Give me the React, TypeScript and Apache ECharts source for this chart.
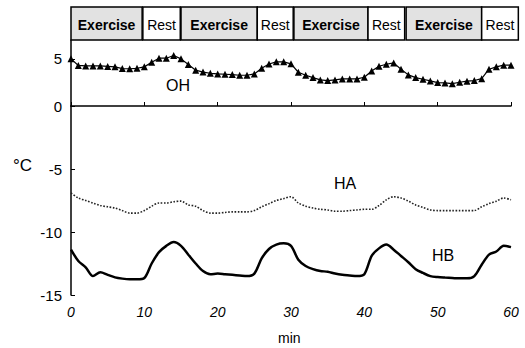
import React, { useEffect, useRef } from "react";
import * as echarts from "echarts";

const minutes: number[] = Array.from({ length: 61 }, (_, i) => i);

const ohValues = [
  5.0, 4.3, 4.25, 4.25, 4.25, 4.2, 4.15, 3.97, 3.95, 4.0, 4.15,
  4.65, 5.07, 5.07, 5.35, 5.0, 4.4, 3.8, 3.6, 3.47, 3.4,
  3.37, 3.33, 3.26, 3.26, 3.4, 4.0, 4.45, 4.68, 4.68, 4.47,
  3.58, 3.26, 3.01, 2.77, 2.7, 2.77, 2.87, 2.87, 2.87, 3.05,
  3.72, 4.22, 4.43, 4.57, 3.9, 3.3, 3.01, 2.84, 2.66, 2.48,
  2.45, 2.37, 2.52, 2.63, 2.7, 2.9, 3.9, 4.15, 4.33, 4.33,
];

const haValues = [
  -6.9, -7.3, -7.5, -7.7, -7.9, -8.0, -8.1, -8.3, -8.5, -8.5, -8.3,
  -7.95, -7.7, -7.7, -7.6, -7.55, -7.85, -7.95, -8.3, -8.5, -8.5,
  -8.45, -8.4, -8.4, -8.4, -8.3, -8.0, -7.75, -7.5, -7.35, -7.2,
  -7.7, -7.95, -8.1, -8.2, -8.25, -8.35, -8.35, -8.3, -8.25, -8.2,
  -8.2, -7.9, -7.45, -7.2, -7.3, -7.55, -7.85, -8.05, -8.25, -8.3,
  -8.3, -8.3, -8.3, -8.3, -8.3, -8.0, -7.75, -7.55, -7.3, -7.45,
];

const hbValues = [
  -11.4, -12.3, -12.8, -13.5, -13.2, -13.4, -13.6, -13.7, -13.75, -13.75, -13.65,
  -12.5, -11.6, -11.1, -10.8, -11.1, -11.8, -12.5, -13.1, -13.35, -13.3,
  -13.35, -13.4, -13.45, -13.5, -13.3, -12.1, -11.35, -11.0, -10.9, -11.1,
  -12.2, -12.7, -12.95, -13.1, -13.15, -13.3, -13.4, -13.45, -13.5, -13.35,
  -11.9, -11.3, -11.0, -11.4, -11.9, -12.4, -12.95, -13.25, -13.5, -13.58,
  -13.62, -13.65, -13.68, -13.68, -13.5, -12.6, -11.8, -11.55, -11.1, -11.2,
];

const phaseLabels = ["Exercise", "Rest", "Exercise", "Rest", "Exercise", "Rest", "Exercise", "Rest"];
const phaseStart = [0, 9.8, 15.0, 25.4, 30.4, 40.5, 45.7, 56.0];
const phaseEnd = [9.7, 14.9, 25.4, 30.3, 40.5, 45.5, 56.0, 61.0];

const xTicks = [0, 10, 20, 30, 40, 50, 60];
const yTicksLow = [-15, -10, -5];
const yTicksHigh = [0, 5];

const FONT = "'Liberation Sans', Arial, Helvetica, sans-serif";

export default function App() {
  const ref = useRef<HTMLDivElement>(null);
  useEffect(() => {
    if (!ref.current) return;
    const chart = echarts.init(ref.current, undefined, { renderer: "svg" });
    const pair = (vals: number[]) => minutes.map((m, i) => [m, vals[i]]);
    const axisLine = { show: true, lineStyle: { color: "#000", width: 1.5 } };
    const option: any = {
      animation: false,
      backgroundColor: "#fff",
      textStyle: { fontFamily: FONT },
      grid: [
        { left: 71, right: 14, top: 7, height: 33 },
        { left: 71, right: 14, top: 40, height: 66 },
        { left: 71, right: 14, top: 106, bottom: 53 },
      ],
      xAxis: [
        { type: "value", gridIndex: 0, min: 0, max: 60, show: false },
        { type: "value", gridIndex: 1, min: 0, max: 60, show: false },
        {
          type: "value",
          gridIndex: 2,
          min: 0,
          max: 60,
          interval: 10,
          axisLine,
          axisTick: { show: true, inside: true, length: 4, lineStyle: { color: "#000", width: 1 }, customValues: xTicks },
          axisLabel: {
            customValues: xTicks,
            color: "#000",
            fontSize: 14,
            fontStyle: "italic",
            fontFamily: FONT,
            margin: 10,
          },
          splitLine: { show: false },
        },
      ],
      yAxis: [
        { type: "value", gridIndex: 0, min: 0, max: 1, show: false },
        {
          type: "value",
          gridIndex: 1,
          min: 0,
          max: 7,
          interval: 5,
          axisLine,
          axisTick: { show: true, inside: true, length: 4, lineStyle: { color: "#000" }, customValues: yTicksHigh },
          axisLabel: { customValues: yTicksHigh, color: "#000", fontSize: 15, fontFamily: FONT, margin: 9 },
          splitLine: { show: false },
        },
        {
          type: "value",
          gridIndex: 2,
          min: -15,
          max: 0,
          interval: 5,
          axisLine,
          axisTick: { show: true, inside: true, length: 4, lineStyle: { color: "#000" }, customValues: yTicksLow },
          axisLabel: { customValues: yTicksLow, color: "#000", fontSize: 15, fontFamily: FONT, margin: 9 },
          splitLine: { show: false },
        },
      ],
      series: [
        {
          type: "custom",
          xAxisIndex: 0,
          yAxisIndex: 0,
          clip: false,
          data: phaseLabels.map((l, i) => [phaseStart[i], phaseEnd[i], i]),
          renderItem: (params: any, api: any) => {
            const s = api.value(0);
            const e = api.value(1);
            const idx = api.value(2);
            const p0 = api.coord([s, 1]);
            const p1 = api.coord([e, 0]);
            const label = phaseLabels[idx];
            const ex = label === "Exercise";
            return {
              type: "group",
              children: [
                {
                  type: "rect",
                  shape: { x: p0[0], y: p0[1], width: p1[0] - p0[0], height: p1[1] - p0[1] },
                  style: { fill: ex ? "#e2e2e2" : "#fff", stroke: "#000", lineWidth: 1.5 },
                },
                {
                  type: "text",
                  x: (p0[0] + p1[0]) / 2,
                  y: (p0[1] + p1[1]) / 2 + 1,
                  style: {
                    text: label,
                    align: "center",
                    verticalAlign: "middle",
                    fill: "#000",
                    font: `${ex ? "bold " : ""}14px ${FONT}`,
                  },
                },
              ],
            };
          },
        },
        {
          name: "OH",
          type: "line",
          xAxisIndex: 1,
          yAxisIndex: 1,
          data: pair(ohValues),
          symbol: "triangle",
          symbolSize: 7,
          showSymbol: true,
          itemStyle: { color: "#000" },
          lineStyle: { color: "#000", width: 1.2 },
        },
        {
          name: "HA",
          type: "line",
          xAxisIndex: 2,
          yAxisIndex: 2,
          data: pair(haValues),
          showSymbol: false,
          smooth: 0.3,
          lineStyle: { color: "#222", width: 1.6, type: "dotted" },
        },
        {
          name: "HB",
          type: "line",
          xAxisIndex: 2,
          yAxisIndex: 2,
          data: pair(hbValues),
          showSymbol: false,
          smooth: 0.3,
          lineStyle: { color: "#000", width: 2.5 },
        },
      ],
      graphic: [
        { type: "text", left: 13, top: 157, style: { text: "°C", font: `17px ${FONT}`, fill: "#000" } },
        { type: "text", left: 278, top: 331, style: { text: "min", font: `14px ${FONT}`, fill: "#000" } },
        { type: "text", left: 166, top: 77, style: { text: "OH", font: `16px ${FONT}`, fill: "#000" } },
        { type: "text", left: 334, top: 175, style: { text: "HA", font: `16px ${FONT}`, fill: "#000" } },
        { type: "text", left: 432, top: 247, style: { text: "HB", font: `16px ${FONT}`, fill: "#000" } },
      ],
    };
    chart.setOption(option);
    return () => chart.dispose();
  }, []);
  return <div ref={ref} style={{ width: 525, height: 348, position: "absolute", left: 0, top: 0 }} />;
}
